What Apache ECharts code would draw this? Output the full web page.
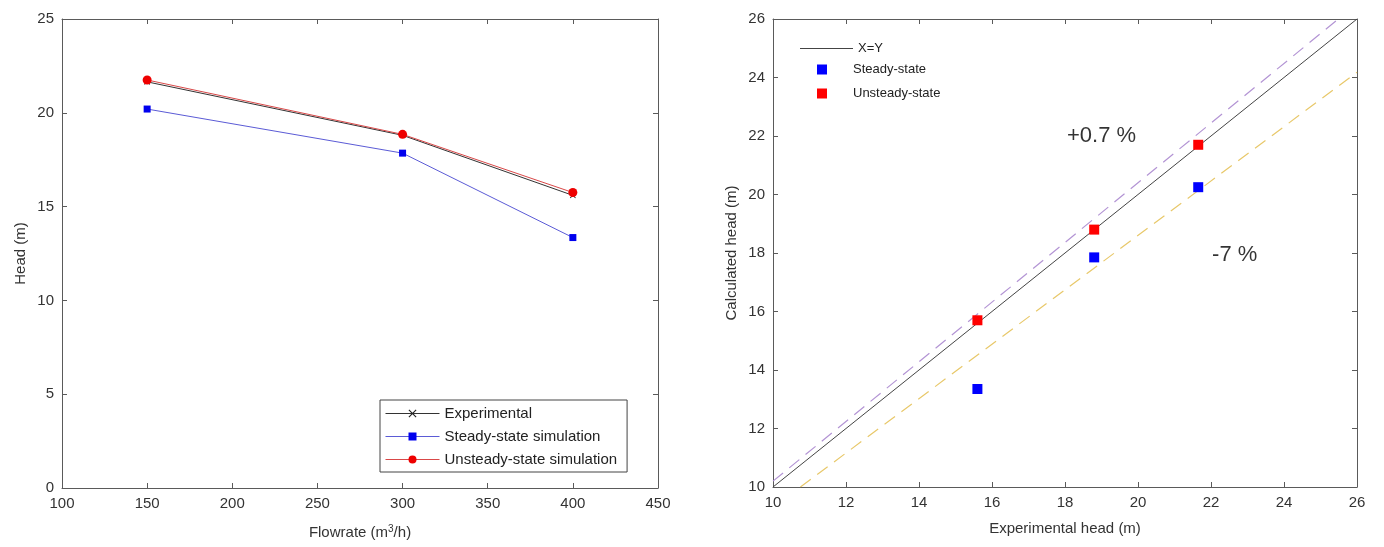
<!DOCTYPE html>
<html><head><meta charset="utf-8">
<script src="https://cdn.jsdelivr.net/npm/echarts@6/dist/echarts.min.js"></script>
<style>html,body{margin:0;padding:0;background:#fff}#c{width:1384px;height:547px}</style>
</head><body><div id="c"></div>
<script>
// ---- Left chart data ----
const flowrates = [150, 300, 400];
const experimental = [21.65, 18.8, 15.6];
const steadySim = [20.2, 17.85, 13.35];
const unsteadySim = [21.75, 18.85, 15.75];
// ---- Right chart data ----
const expHead = [15.6, 18.8, 21.65];
const steadyCalc = [13.35, 17.85, 20.25];
const unsteadyCalc = [15.7, 18.8, 21.7];
const identityX = [10, 26];
const identityY = [10, 26];
const upperX = [10, 25.49];
const upperY = [10.2, 26];
const lowerX = [10.75, 26];
const lowerY = [10, 24.18];
const annotations = [['+0.7 %', 19, 22], ['-7 %', 22.65, 17.95]];
const leftXTicks = {min: 100, max: 450, interval: 50};
const leftYTicks = {min: 0, max: 25, interval: 5};
const rightTicks = {min: 10, max: 26, interval: 2};

const FONT = 'Liberation Sans, Arial, sans-serif';
const axisCol = '#5a5a5a';
const labCol = '#333';
const crossPath = 'path://M0,1L1,0L5,4L9,0L10,1L6,5L10,9L9,10L5,6L1,10L0,9L4,5Z';

function zipXY(xs, ys){ return xs.map((x,i)=>[x, ys[i]]); }

function mkAxis(extra){
  return Object.assign({
    type:'value', splitLine:{show:false},
    axisLine:{show:true, onZero:false, lineStyle:{color:axisCol, width:1}},
    axisTick:{show:true, inside:true, length:5, lineStyle:{color:axisCol}},
    axisLabel:{color:labCol, fontFamily:FONT, fontSize:15, margin:8},
    nameTextStyle:{color:labCol, fontFamily:FONT, fontSize:15}
  }, extra);
}
function mirror(base, extra){
  return mkAxis(Object.assign({}, base, {axisLabel:{show:false}}, extra));
}

const chart = echarts.init(document.getElementById('c'), null, {renderer:'canvas'});
const option = {
  animation:false,
  backgroundColor:'#fff',
  grid:[
    {left:62, right:726, top:19, bottom:59},
    {left:773, right:27, top:19, bottom:60}
  ],
  xAxis:[
    mkAxis(Object.assign({gridIndex:0, position:'bottom', name:'Flowrate (m{sup|3}/h)', nameLocation:'middle', nameGap:36,
      nameTextStyle:{color:labCol, fontFamily:FONT, fontSize:15, rich:{sup:{fontSize:10, verticalAlign:'top', padding:[0,0,8,0], color:labCol, fontFamily:FONT}}}}, leftXTicks)),
    mirror(leftXTicks, {gridIndex:0, position:'top'}),
    mkAxis(Object.assign({gridIndex:1, position:'bottom', name:'Experimental head (m)', nameLocation:'middle', nameGap:34}, rightTicks)),
    mirror(rightTicks, {gridIndex:1, position:'top'})
  ],
  yAxis:[
    mkAxis(Object.assign({gridIndex:0, position:'left', name:'Head (m)', nameLocation:'middle', nameGap:34}, leftYTicks)),
    mirror(leftYTicks, {gridIndex:0, position:'right'}),
    mkAxis(Object.assign({gridIndex:1, position:'left', name:'Calculated head (m)', nameLocation:'middle', nameGap:34}, rightTicks)),
    mirror(rightTicks, {gridIndex:1, position:'right'})
  ],
  legend:[
    {data:['Experimental','Steady-state simulation','Unsteady-state simulation'],
     left:380, top:400, orient:'vertical', width:265, padding:[6,10,5,5], itemGap:8,
     itemWidth:54, itemHeight:10, borderColor:'#444', borderWidth:1, backgroundColor:'#fff',
     lineStyle:{width:1},
     textStyle:{color:'#222', fontFamily:FONT, fontSize:15}},
    {data:[{name:'X=Y', icon:'rect'}],
     left:795, top:37, orient:'vertical', itemWidth:53, itemHeight:1.2,
     textStyle:{color:'#222', fontFamily:FONT, fontSize:13}},
    {data:[{name:'Steady-state', icon:'rect'}, {name:'Unsteady-state', icon:'rect'}],
     left:812, top:58, orient:'vertical', itemGap:11, itemWidth:10, itemHeight:10,
     textStyle:{color:'#222', fontFamily:FONT, fontSize:13, padding:[0,0,0,21]}}
  ],
  series:[
    {name:'Experimental', type:'line', xAxisIndex:0, yAxisIndex:0,
     data:zipXY(flowrates, experimental), symbol:crossPath, symbolSize:6,
     lineStyle:{color:'#333', width:1}, itemStyle:{color:'#222'}, z:2},
    {name:'Steady-state simulation', type:'line', xAxisIndex:0, yAxisIndex:0,
     data:zipXY(flowrates, steadySim), symbol:'rect', symbolSize:7,
     lineStyle:{color:'#5b5bd6', width:1}, itemStyle:{color:'#0000ee'}, z:3},
    {name:'Unsteady-state simulation', type:'line', xAxisIndex:0, yAxisIndex:0,
     data:zipXY(flowrates, unsteadySim), symbol:'circle', symbolSize:9,
     lineStyle:{color:'#d94848', width:1}, itemStyle:{color:'#ee0000'}, z:4},

    {name:'X=Y', type:'line', xAxisIndex:2, yAxisIndex:2, data:zipXY(identityX, identityY),
     symbol:'none', lineStyle:{color:'#444', width:1}, itemStyle:{color:'#444'}, z:3},
    {name:'upper', type:'line', xAxisIndex:2, yAxisIndex:2, data:zipXY(upperX, upperY),
     symbol:'none', lineStyle:{color:'#b394d4', width:1.2, type:[13,8]}, z:2},
    {name:'lower', type:'line', xAxisIndex:2, yAxisIndex:2, data:zipXY(lowerX, lowerY),
     symbol:'none', lineStyle:{color:'#e8c86a', width:1.2, type:[13,8]}, z:2},
    {name:'Steady-state', type:'scatter', xAxisIndex:2, yAxisIndex:2, data:zipXY(expHead, steadyCalc),
     symbol:'rect', symbolSize:10, itemStyle:{color:'#0000ff', opacity:1}, z:5},
    {name:'Unsteady-state', type:'scatter', xAxisIndex:2, yAxisIndex:2, data:zipXY(expHead, unsteadyCalc),
     symbol:'rect', symbolSize:10, itemStyle:{color:'#ff0000', opacity:1}, z:5},
    {name:'notes', type:'scatter', xAxisIndex:2, yAxisIndex:2, symbolSize:0, silent:true,
     data:annotations.map(a=>({value:[a[1], a[2]], name:a[0]})),
     label:{show:true, position:'inside', formatter:p=>p.name, color:'#000', fontFamily:FONT, fontSize:22}, z:6}
  ]
};
chart.setOption(option);
</script></body></html>
